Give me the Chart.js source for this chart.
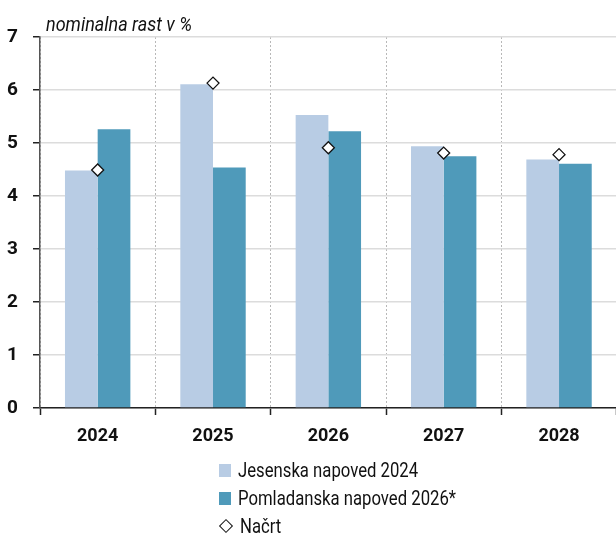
<!DOCTYPE html>
<html>
<head>
<meta charset="utf-8">
<script src="https://cdn.jsdelivr.net/npm/chart.js@4.4.1/dist/chart.umd.min.js"></script>
<style>
  html, body { margin: 0; padding: 0; background: #fff; overflow: hidden; }
  body { width: 616px; height: 535px; position: relative;
         font-family: Roboto, "Liberation Sans", sans-serif; color: #111; }
  #wrap { position: absolute; left: 0; top: 0; width: 624px; height: 460px; }
  #unit { position: absolute; left: 46px; top: 12px; font-size: 20px; font-style: italic;
          transform: scaleX(0.9); transform-origin: left center; white-space: nowrap; }
  #legend { position: absolute; left: 219px; top: 456px; font-size: 20px; }
  .row { height: 28px; display: flex; align-items: center; }
  .sw { width: 12px; height: 13px; margin-right: 7px; flex: none; }
  .dia { width: 8px; height: 8px; border: 1.3px solid #111; transform: rotate(45deg);
         margin: 0 9px 0 2px; background: #fff; flex: none; }
  .txt { display: inline-block; transform: scaleX(0.835); transform-origin: left center; white-space: nowrap; }
</style>
</head>
<body>
<div id="wrap"><canvas id="chart"></canvas></div>
<div id="unit">nominalna rast v %</div>
<div id="legend"></div>
<script>
// nominal growth, %
const years = ['2024', '2025', '2026', '2027', '2028']
const autumn2024 = [4.48, 6.11, 5.53, 4.94, 4.69]
const spring2026 = [5.26, 4.54, 5.22, 4.75, 4.61]
const draft = [4.49, 6.13, 4.91, 4.81, 4.78]
const seriesNames = ['Jesenska napoved 2024', 'Pomladanska napoved 2026*', 'Načrt']
const yTicks = [0, 1, 2, 3, 4, 5, 6, 7]

const LIGHT = '#b8cce4'
const DARK = '#4f9aba'
const FONT = 'Roboto, "Liberation Sans", sans-serif'

new Chart(document.getElementById('chart'), {
  type: 'bar',
  data: {
    labels: years,
    datasets: [
      {
        type: 'line',
        label: seriesNames[2],
        data: draft,
        showLine: false,
        pointStyle: 'rectRot',
        pointRadius: 6,
        pointBackgroundColor: '#fff',
        pointBorderColor: '#111',
        pointBorderWidth: 1.3,
        order: 0,
      },
      { label: seriesNames[0], data: autumn2024, backgroundColor: LIGHT, order: 1 },
      { label: seriesNames[1], data: spring2026, backgroundColor: DARK, order: 1 },
    ],
  },
  options: {
    responsive: true,
    maintainAspectRatio: false,
    animation: false,
    layout: { padding: { top: 37, left: 0, right: 2, bottom: 0 } },
    datasets: { bar: { categoryPercentage: 0.567, barPercentage: 1 } },
    plugins: { legend: { display: false }, tooltip: { enabled: false } },
    scales: {
      x: {
        offset: true,
        grid: { offset: true, color: '#b8b8b8', lineWidth: 1, tickLength: 7,
                tickColor: '#222', tickWidth: 1.5 },
        border: { color: '#222', width: 1.5, dash: [2, 2] },
        ticks: { color: '#111', padding: 11, font: { family: FONT, size: 18, weight: 'bold' } },
        afterFit: s => { s.height = 52 },
      },
      y: {
        min: 0,
        max: 7,
        afterBuildTicks: s => { s.ticks = yTicks.map(v => ({ value: v })) },
        grid: { color: '#dcdcdc', lineWidth: 1.5, tickLength: 7, tickColor: '#222', tickWidth: 1.5 },
        border: { color: '#555', width: 1.5 },
        ticks: { color: '#111', padding: 15, font: { family: FONT, size: 19, weight: 'bold' } },
        afterFit: s => { s.width = 40 },
      },
    },
  },
})

// legend, stacked in one column
const legend = document.getElementById('legend')
legend.innerHTML = [
  `<div class="row"><span class="sw" style="background:${LIGHT}"></span><span class="txt">${seriesNames[0]}</span></div>`,
  `<div class="row"><span class="sw" style="background:${DARK}"></span><span class="txt">${seriesNames[1]}</span></div>`,
  `<div class="row"><span class="dia"></span><span class="txt">${seriesNames[2]}</span></div>`,
].join('')
</script>
</body>
</html>
